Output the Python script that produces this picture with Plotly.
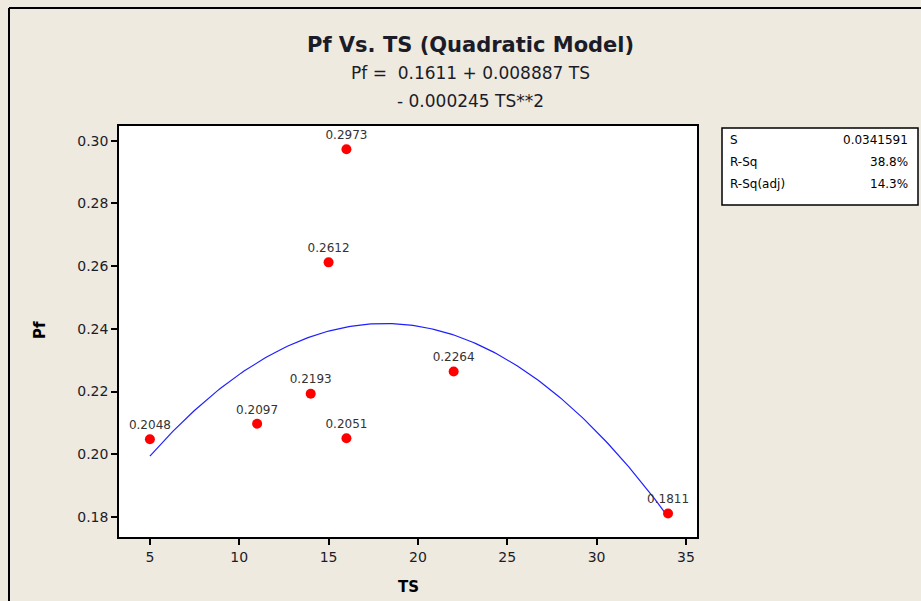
import numpy as np
import plotly.graph_objects as go

# Data
ts = [5, 11, 14, 15, 16, 16, 22, 34]
pf = [0.2048, 0.2097, 0.2193, 0.2612, 0.2973, 0.2051, 0.2264, 0.1811]
labels = ["0.2048", "0.2097", "0.2193", "0.2612", "0.2973", "0.2051", "0.2264", "0.1811"]
coef = [0.1611, 0.008887, -0.000245]  # model from chart text
x_ticks = [5, 10, 15, 20, 25, 30, 35]
y_ticks = [0.18, 0.20, 0.22, 0.24, 0.26, 0.28, 0.30]
stat_names = ["S", "R-Sq", "R-Sq(adj)"]
stat_vals = ["0.0341591", "38.8%", "14.3%"]

W, H = 921, 601
L, R, T, B = 119, 697, 126, 537

def px(x):
    return (x - L) / (R - L)

def py(y):
    return (B - y) / (B - T)

xs = np.linspace(min(ts), max(ts), 200)
ys = coef[0] + coef[1] * xs + coef[2] * xs ** 2

font = "DejaVu Sans"
dark = "#1c1c28"

fig = go.Figure()
fig.add_trace(go.Scatter(x=xs, y=ys, mode="lines",
                         line=dict(color="#1f1fff", width=1.2), hoverinfo="skip"))
fig.add_trace(go.Scatter(x=ts, y=pf, mode="markers+text", text=labels,
                         textposition="top center",
                         textfont=dict(family=font, size=12, color="#333"),
                         marker=dict(color="#ff0000", size=10, symbol="circle")))

fig.update_layout(
    width=W, height=H,
    margin=dict(l=L, r=W - R, t=T, b=H - B),
    paper_bgcolor="#eeeae0", plot_bgcolor="white",
    showlegend=False,
    font=dict(family=font, color=dark),
)
fig.update_xaxes(range=[3.27, 35.62], tickvals=x_ticks, ticks="outside", ticklen=6,
                 tickwidth=1.5, tickcolor="black", showline=True, linecolor="black",
                 linewidth=1.5, mirror=True, showgrid=False, zeroline=False,
                 tickfont=dict(size=14, color=dark))
fig.update_yaxes(range=[0.1736, 0.3047], tickvals=y_ticks, tickformat=".2f",
                 ticks="outside", ticklen=6, tickwidth=1.5, tickcolor="black",
                 showline=True, linecolor="black", linewidth=1.5, mirror=True,
                 showgrid=False, zeroline=False, tickfont=dict(size=14, color=dark))

ann = []
ann.append(dict(text="<b>Pf Vs. TS (Quadratic Model)</b>", x=px(470), y=py(45),
                font=dict(size=21, color=dark)))
ann.append(dict(text="Pf =  0.1611 + 0.008887 TS", x=px(470), y=py(73),
                font=dict(size=17, color=dark)))
ann.append(dict(text="- 0.000245 TS**2", x=px(470), y=py(101),
                font=dict(size=17, color=dark)))
ann.append(dict(text="<b>TS</b>", x=px(408), y=py(587), font=dict(size=15, color="black")))
ann.append(dict(text="<b>Pf</b>", x=px(40), y=py(330), textangle=-90,
                font=dict(size=15, color="black")))
for i, (n, v) in enumerate(zip(stat_names, stat_vals)):
    yy = 140 + 22 * i
    ann.append(dict(text=n, x=px(728), y=py(yy), xanchor="left",
                    font=dict(size=12, color="black")))
    ann.append(dict(text=v, x=px(910), y=py(yy), xanchor="right",
                    font=dict(size=12, color="black")))
for a in ann:
    a.setdefault("xanchor", "center")
    a.update(xref="paper", yref="paper", showarrow=False, yanchor="middle")
    fig.add_annotation(**a)

shapes = [
    dict(type="rect", x0=px(722), x1=px(918), y0=py(205), y1=py(128),
         line=dict(color="black", width=1.5), fillcolor="white", layer="below"),
    dict(type="line", x0=px(9), x1=px(930), y0=py(8), y1=py(8),
         line=dict(color="black", width=2)),
    dict(type="line", x0=px(9), x1=px(9), y0=py(8), y1=py(610),
         line=dict(color="black", width=2)),
]
for s in shapes:
    s.update(xref="paper", yref="paper")
    fig.add_shape(**s)

fig.write_html("out.html")
